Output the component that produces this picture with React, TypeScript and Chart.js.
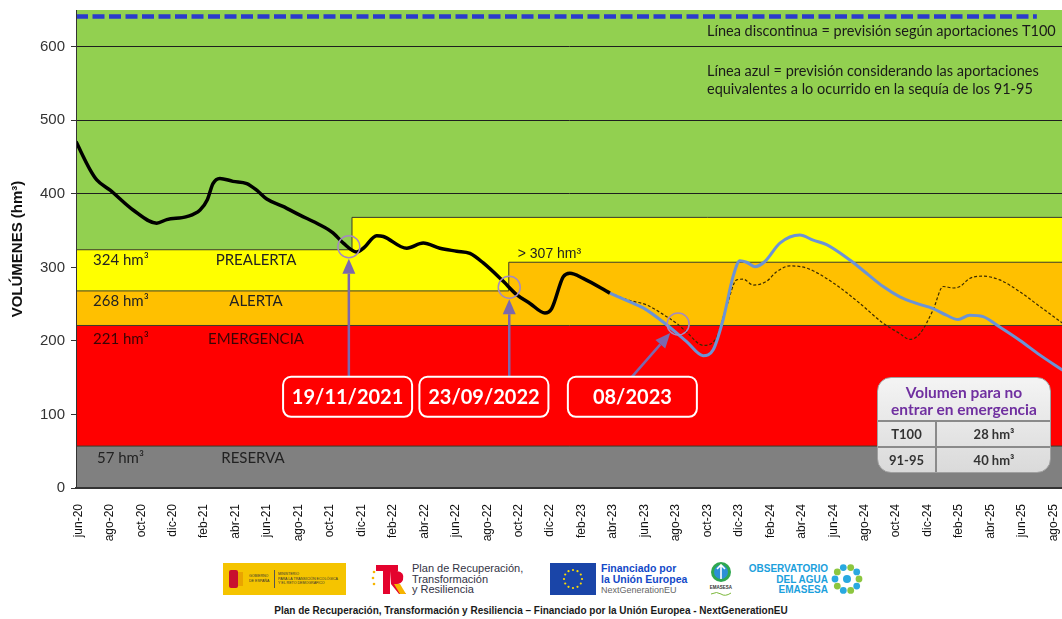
import React, { useEffect, useRef } from 'react';
import { Chart, registerables } from 'chart.js';

Chart.register(...registerables);

// ---------- axis ticks ----------
const xTickLabels = [
  'jun-20', 'ago-20', 'oct-20', 'dic-20', 'feb-21', 'abr-21', 'jun-21', 'ago-21',
  'oct-21', 'dic-21', 'feb-22', 'abr-22', 'jun-22', 'ago-22', 'oct-22', 'dic-22',
  'feb-23', 'abr-23', 'jun-23', 'ago-23', 'oct-23', 'dic-23', 'feb-24', 'abr-24',
  'jun-24', 'ago-24', 'oct-24', 'dic-24', 'feb-25', 'abr-25', 'jun-25', 'ago-25',
];
// months counted from jun-20
const xTickMonths = [
  0, 2, 4, 6, 8, 10, 12, 14, 16, 18, 20, 22, 24, 26, 28, 30,
  32, 34, 36, 38, 40, 42, 44, 46, 48, 50, 52, 54, 56, 58, 60, 62,
];
const yTickValues = [0, 100, 200, 300, 400, 500, 600];

// ---------- observed volume (black) ----------
const observedMonths = [
  -0.15, 0.74, 1.17, 2.02, 3.48, 4.98, 5.62, 6.89, 7.74, 8.2, 8.56, 9.0, 9.83, 10.71,
  11.34, 11.98, 13.01, 14.09, 15.16, 16.19, 16.85, 17.7, 18.12, 18.97, 19.39, 20.88,
  21.93, 22.99, 24.06, 24.9, 25.75, 27.02, 27.87, 28.72, 29.67, 30.1, 30.83, 31.26,
  32.1, 33.8,
];
const observedValues = [
  471, 433, 419, 405, 378, 360, 365, 369, 378, 392, 414, 421, 417, 414,
  405, 393, 383, 371, 360, 347, 333, 321, 326, 343, 342, 326,
  333, 326, 322, 319, 306, 281, 263, 251, 238, 244, 287, 292,
  285, 265,
];

// ---------- forecast with 91-95 inflows (blue) ----------
const forecast9195Months = [
  33.8, 35.07, 35.92, 37.41, 38.68, 39.73, 40.37, 41.0, 41.64, 42.07, 42.49, 43.02,
  43.66, 44.61, 45.88, 46.73, 47.58, 49.06, 50.12, 51.18, 52.24, 53.3, 54.35, 55.2,
  55.94, 56.68, 57.53, 58.59, 59.86, 61.13, 62.6,
];
const forecast9195Values = [
  265, 253, 245, 222, 199, 180, 188, 229, 288, 309, 307, 301,
  308, 333, 344, 337, 331, 310, 292, 274, 260, 251, 244, 235,
  229, 235, 233, 219, 201, 181, 160,
];

// ---------- forecast with T100 inflows (dashed) ----------
const forecastT100Months = [
  33.8, 35.07, 36.13, 37.41, 38.1, 38.68, 39.73, 40.48, 41.22, 41.86, 42.28, 42.91,
  43.76, 44.4, 45.25, 46.31, 48.0, 49.7, 51.18, 52.24, 52.88, 53.52, 54.35, 54.99,
  55.63, 56.06, 56.68, 57.53, 58.59, 59.86, 61.13, 62.6,
];
const forecastT100Values = [
  265, 255, 249, 233, 223, 212, 194, 201, 247, 283, 284, 276,
  281, 294, 302, 299, 279, 251, 224, 210, 202, 210, 242, 274,
  272, 274, 285, 288, 283, 267, 247, 224,
];

// ---------- T100 level (blue dashed) ----------
const t100LevelMonths = [-0.15, 60.95];
const t100LevelValues = [641, 641];

// ---------- alert bands ----------
const prealertaMonths = [-0.15, 17.4, 62.6];
const prealertaValues = [324, 368, 368];
const alertaMonths = [-0.15, 27.37, 62.6];
const alertaValues = [268, 307, 307];
const emergenciaMonths = [-0.15, 62.6];
const emergenciaValues = [221, 221];
const reservaMonths = [-0.15, 62.6];
const reservaValues = [57, 57];

const bandThresholds = [324, 268, 221, 57];
const bandThresholdLabels = ['324 hm³', '268 hm³', '221 hm³', '57 hm³'];
const bandNames = ['PREALERTA', 'ALERTA', 'EMERGENCIA', 'RESERVA'];

// ---------- event annotations ----------
const eventLabels = ['19/11/2021', '23/09/2022', '08/2023'];
const eventMonths = [17.2, 27.4, 38.14];
const eventValues = [328, 273, 223];
const eventBoxMonths = [17.12, 25.79, 35.23];
const eventBoxValue = 124;
const eventArrowFromMonths = [17.2, 27.4, 35.2];

const pts = (xs: number[], ys: number[]) => xs.map((x, i) => ({ x, y: ys[i] }));

const LATO = 'Lato, "Noto Sans", sans-serif';
const ARIAL = '"Liberation Sans", Arial, sans-serif';

const bgPlugin = {
  id: 'greenBg',
  beforeDraw(chart: any) {
    const { ctx, chartArea: a } = chart;
    ctx.save();
    ctx.fillStyle = '#92D050';
    ctx.fillRect(a.left, a.top, a.right - a.left, a.bottom - a.top);
    ctx.restore();
  },
};

const overlayPlugin = {
  id: 'overlay',
  afterDraw(chart: any) {
    const { ctx, chartArea: a, scales } = chart;
    const xs = scales.x;
    const ys = scales.y;
    const px = (m: number) => xs.getPixelForValue(m);
    const py = (v: number) => ys.getPixelForValue(v);
    ctx.save();

    // band labels
    const dy = [10, 10.5, 13.5, 12.5];
    const leftOff = [17, 17, 17, 21];
    const nameOff = [180, 180, 180, 177];
    ctx.textBaseline = 'middle';
    for (let i = 0; i < bandThresholds.length; i++) {
      const yy = py(bandThresholds[i]) + dy[i];
      ctx.fillStyle = i === 2 ? '#3a0505' : '#222';
      ctx.font = `15px ${LATO}`;
      ctx.textAlign = 'left';
      ctx.fillText(bandThresholdLabels[i], a.left + leftOff[i], yy);
      ctx.textAlign = 'center';
      ctx.fillText(bandNames[i], a.left + nameOff[i], yy);
    }

    // > 307 label
    ctx.font = `14px ${ARIAL}`;
    ctx.fillStyle = '#222';
    ctx.textAlign = 'left';
    ctx.fillText('> 307 hm³', px(alertaMonths[1]) + 9, py(alertaValues[1]) - 8);

    // notes top right
    ctx.font = `14.5px ${LATO}`;
    ctx.fillStyle = '#1a1a1a';
    ctx.fillText('Línea discontinua = previsión según aportaciones T100', 707, 31);
    ctx.fillText('Línea azul = previsión considerando las aportaciones', 707, 71);
    ctx.fillText('equivalentes a lo ocurrido en la sequía de los 91-95', 707, 89);

    // events
    const r = 11;
    for (let i = 0; i < eventLabels.length; i++) {
      const cx = px(eventMonths[i]);
      const cy = py(eventValues[i]);
      ctx.beginPath();
      ctx.arc(cx, cy, r, 0, Math.PI * 2);
      ctx.strokeStyle = '#a58ac0';
      ctx.lineWidth = 1.5;
      ctx.stroke();

      const bx = px(eventBoxMonths[i]);
      const by = py(eventBoxValue);
      const bw = 129;
      const bh = 40;
      const boxTop = by - bh / 2;

      // arrow
      const sx = px(eventArrowFromMonths[i]);
      const sy = boxTop;
      const ddx = cx - sx;
      const ddy = cy - sy;
      const len = Math.hypot(ddx, ddy);
      const ux = ddx / len;
      const uy = ddy / len;
      const tx = cx - ux * (r + 1);
      const ty = cy - uy * (r + 1);
      const hl = 15;
      const hw = 6.5;
      const baseX = tx - ux * hl;
      const baseY = ty - uy * hl;
      ctx.strokeStyle = '#7b68ad';
      ctx.lineWidth = 2.5;
      ctx.beginPath();
      ctx.moveTo(sx, sy);
      ctx.lineTo(baseX, baseY);
      ctx.stroke();
      ctx.fillStyle = '#7b68ad';
      ctx.beginPath();
      ctx.moveTo(tx, ty);
      ctx.lineTo(baseX - uy * hw, baseY + ux * hw);
      ctx.lineTo(baseX + uy * hw, baseY - ux * hw);
      ctx.closePath();
      ctx.fill();

      // box
      ctx.beginPath();
      ctx.roundRect(bx - bw / 2, boxTop, bw, bh, 8);
      ctx.fillStyle = '#ff0000';
      ctx.fill();
      ctx.strokeStyle = '#ffffff';
      ctx.lineWidth = 2;
      ctx.stroke();
      ctx.fillStyle = '#ffffff';
      ctx.font = `bold 20px ${LATO}`;
      ctx.textAlign = 'center';
      ctx.textBaseline = 'middle';
      ctx.fillText(eventLabels[i], bx, by + 1);
    }
    ctx.restore();
  },
};

function VolumeBox() {
  const cell: any = {
    position: 'absolute',
    fontFamily: LATO,
    fontWeight: 700,
    fontSize: 13,
    color: '#333',
    textAlign: 'center',
  };
  return (
    <div
      style={{
        position: 'absolute',
        left: 877,
        top: 377,
        width: 174,
        height: 96,
        borderRadius: 14,
        background: 'linear-gradient(#f4f4f4, #dadada)',
        border: '1px solid #a0a0a0',
        boxSizing: 'border-box',
        overflow: 'hidden',
      }}
    >
      <div
        style={{
          position: 'absolute',
          left: 0,
          top: 6,
          width: '100%',
          textAlign: 'center',
          fontFamily: LATO,
          fontWeight: 700,
          fontSize: 15.5,
          lineHeight: '17px',
          color: '#7030A0',
        }}
      >
        Volumen para no
        <br />
        entrar en emergencia
      </div>
      <div style={{ position: 'absolute', left: 0, top: 42, width: '100%', height: 2, background: '#8a8a8a' }} />
      <div style={{ position: 'absolute', left: 0, top: 68, width: '100%', height: 2, background: '#8a8a8a' }} />
      <div style={{ position: 'absolute', left: 57, top: 43, width: 2, height: 60, background: '#8a8a8a' }} />
      <div style={{ ...cell, left: 0, width: 57, top: 44, lineHeight: '24px' }}>T100</div>
      <div style={{ ...cell, left: 59, width: 114, top: 44, lineHeight: '24px' }}>28 hm³</div>
      <div style={{ ...cell, left: 0, width: 57, top: 70, lineHeight: '24px' }}>91-95</div>
      <div style={{ ...cell, left: 59, width: 114, top: 70, lineHeight: '24px' }}>40 hm³</div>
    </div>
  );
}

function Logos() {
  const starAngles = [0, 30, 60, 90, 120, 150, 180, 210, 240, 270, 300, 330];
  const ringAngles = [0, 36, 72, 108, 144, 180, 216, 252, 288, 324];
  return (
    <>
      {/* Gobierno de España */}
      <div style={{ position: 'absolute', left: 223, top: 563, width: 123, height: 32, background: '#F5C400' }}>
        <div style={{ position: 'absolute', left: 6, top: 7, width: 9, height: 18, background: '#c8102e', borderRadius: 2 }} />
        <div style={{ position: 'absolute', left: 15, top: 9, width: 5, height: 14, background: '#e9a400' }} />
        <div style={{ position: 'absolute', left: 26, top: 11, fontFamily: ARIAL, fontSize: 3.6, lineHeight: '4.5px', color: '#333' }}>
          GOBIERNO
          <br />
          DE ESPAÑA
        </div>
        <div style={{ position: 'absolute', left: 51, top: 7, width: 0.8, height: 18, background: '#555' }} />
        <div style={{ position: 'absolute', left: 55, top: 9, fontFamily: ARIAL, fontSize: 3.6, lineHeight: '4.5px', color: '#333' }}>
          MINISTERIO
          <br />
          PARA LA TRANSICIÓN ECOLÓGICA
          <br />
          Y EL RETO DEMOGRÁFICO
        </div>
      </div>
      {/* Plan de Recuperación */}
      <svg style={{ position: 'absolute', left: 370, top: 562 }} width={38} height={34}>
        <circle cx={4} cy={10} r={1.3} fill="#f6b400" />
        <circle cx={3} cy={16} r={1.3} fill="#f6b400" />
        <circle cx={4} cy={22} r={1.3} fill="#f6b400" />
        <rect x={6} y={3} width={22} height={6} fill="#e4032e" />
        <rect x={13} y={3} width={7} height={29} fill="#e4032e" />
        <path d="M20 9 L27 9 Q35 10 33 18 Q31 22 27 22 L36 32 L29 32 L21 22 Z" fill="#e4032e" />
        <path d="M24 22 L30 22 L36 32 L30 32 Z" fill="#f6b400" />
      </svg>
      <div
        style={{
          position: 'absolute',
          left: 412,
          top: 563,
          fontFamily: ARIAL,
          fontSize: 11,
          lineHeight: '10.5px',
          color: '#333344',
          whiteSpace: 'nowrap',
        }}
      >
        Plan de Recuperación,
        <br />
        Transformación
        <br />y Resiliencia
      </div>
      {/* EU */}
      <svg style={{ position: 'absolute', left: 550, top: 563 }} width={46} height={32}>
        <rect x={0} y={0} width={46} height={32} fill="#1a45a8" />
        {starAngles.map((d) => (
          <circle
            key={d}
            cx={23 + 9 * Math.cos((d * Math.PI) / 180)}
            cy={16 + 9 * Math.sin((d * Math.PI) / 180)}
            r={1.1}
            fill="#ffdd00"
          />
        ))}
      </svg>
      <div style={{ position: 'absolute', left: 601, top: 563, fontFamily: ARIAL, whiteSpace: 'nowrap' }}>
        <div style={{ fontSize: 10.5, fontWeight: 700, color: '#1349c8', lineHeight: '11px' }}>Financiado por</div>
        <div style={{ fontSize: 10.5, fontWeight: 700, color: '#1349c8', lineHeight: '11px' }}>la Unión Europea</div>
        <div style={{ fontSize: 9, color: '#666', lineHeight: '11px' }}>NextGenerationEU</div>
      </div>
      {/* EMASESA */}
      <svg style={{ position: 'absolute', left: 707, top: 560 }} width={28} height={38}>
        <circle cx={14} cy={12} r={10} fill="#2fa84f" />
        <circle cx={14} cy={12} r={7} fill="#2b8fd6" />
        <path d="M14 5 L14 19 M10 9 L14 5 L18 9" stroke="#fff" strokeWidth={1.6} fill="none" />
        <text x={14} y={29} fontSize={4.5} fontWeight={700} textAnchor="middle" fill="#333" fontFamily={ARIAL}>
          EMASESA
        </text>
        <path d="M4 34 Q10 31 14 34 T24 33" stroke="#7cb83a" strokeWidth={1} fill="none" />
      </svg>
      {/* Observatorio */}
      <div
        style={{
          position: 'absolute',
          left: 740,
          top: 564,
          width: 88,
          textAlign: 'right',
          fontFamily: ARIAL,
          fontWeight: 700,
          fontSize: 10,
          lineHeight: '10.5px',
          color: '#1ca0dc',
        }}
      >
        OBSERVATORIO
        <br />
        DEL AGUA
        <br />
        EMASESA
      </div>
      <svg style={{ position: 'absolute', left: 831, top: 563 }} width={32} height={32}>
        {ringAngles.map((d, i) => (
          <circle
            key={d}
            cx={16 + 12 * Math.cos((d * Math.PI) / 180)}
            cy={16 + 12 * Math.sin((d * Math.PI) / 180)}
            r={3.4}
            fill={i % 2 === 0 ? '#8cc63f' : '#29a9e0'}
          />
        ))}
        <circle cx={16} cy={16} r={4} fill="#29a9e0" />
      </svg>
      <div
        style={{
          position: 'absolute',
          left: 0,
          top: 605,
          width: 1062,
          textAlign: 'center',
          fontFamily: ARIAL,
          fontWeight: 700,
          fontSize: 10,
          lineHeight: '12px',
          color: '#1a1a1a',
        }}
      >
        Plan de Recuperación, Transformación y Resiliencia – Financiado por la Unión Europea - NextGenerationEU
      </div>
    </>
  );
}

export default function App() {
  const ref = useRef<HTMLCanvasElement>(null);

  useEffect(() => {
    const lineBase = { pointRadius: 0, pointHoverRadius: 0, fill: false };
    const bandBase = { pointRadius: 0, pointHoverRadius: 0, stepped: 'before', fill: 'origin', borderColor: '#3b3b2b', borderWidth: 1 };
    const chart = new Chart(ref.current as HTMLCanvasElement, {
      type: 'line',
      data: {
        datasets: [
          {
            ...lineBase,
            label: 'Volumen embalsado',
            data: pts(observedMonths, observedValues),
            borderColor: '#000000',
            borderWidth: 3.5,
            cubicInterpolationMode: 'monotone',
            order: 0,
          },
          {
            ...lineBase,
            label: 'Previsión 91-95',
            data: pts(forecast9195Months, forecast9195Values),
            borderColor: '#6b93d6',
            borderWidth: 3,
            cubicInterpolationMode: 'monotone',
            order: 1,
          },
          {
            ...lineBase,
            label: 'Previsión T100',
            data: pts(forecastT100Months, forecastT100Values),
            borderColor: '#3a2a00',
            borderWidth: 1.2,
            borderDash: [3, 2],
            cubicInterpolationMode: 'monotone',
            order: 2,
          },
          {
            ...lineBase,
            label: 'Nivel T100',
            data: pts(t100LevelMonths, t100LevelValues),
            borderColor: '#2b3bcc',
            borderWidth: 4.5,
            borderDash: [12, 4.5],
            order: 3,
          },
          { ...bandBase, label: 'Reserva', data: pts(reservaMonths, reservaValues), backgroundColor: '#808080', order: 10 },
          { ...bandBase, label: 'Emergencia', data: pts(emergenciaMonths, emergenciaValues), backgroundColor: '#ff0000', order: 11 },
          { ...bandBase, label: 'Alerta', data: pts(alertaMonths, alertaValues), backgroundColor: '#ffc000', order: 12 },
          { ...bandBase, label: 'Prealerta', data: pts(prealertaMonths, prealertaValues), backgroundColor: '#ffff00', order: 13 },
        ],
      } as any,
      options: {
        responsive: false,
        maintainAspectRatio: false,
        animation: false,
        devicePixelRatio: 1,
        layout: { padding: { top: 10, right: 0, left: 0, bottom: 0 } },
        plugins: { legend: { display: false }, tooltip: { enabled: false } },
        events: [],
        scales: {
          x: {
            type: 'linear',
            min: -0.15,
            max: 62.55,
            grid: { display: false },
            border: { display: true, color: '#333', width: 2, z: 1 },
            afterBuildTicks: (s: any) => {
              s.ticks = xTickMonths.map((v) => ({ value: v }));
            },
            afterFit: (s: any) => {
              s.height = 67;
              s.paddingLeft = 0;
              s.paddingRight = 0;
              s.paddingTop = 0;
              s.paddingBottom = 0;
            },
            ticks: {
              autoSkip: false,
              maxRotation: 90,
              minRotation: 90,
              padding: 8,
              color: '#111',
              font: { family: ARIAL, size: 12 },
              callback: (_v: any, i: number) => xTickLabels[i],
            },
          },
          y: {
            type: 'linear',
            min: 0,
            max: 650,
            afterBuildTicks: (s: any) => {
              s.ticks = yTickValues.map((v) => ({ value: v }));
            },
            afterFit: (s: any) => {
              s.width = 76;
              s.paddingLeft = 0;
              s.paddingRight = 0;
              s.paddingTop = 0;
              s.paddingBottom = 0;
            },
            grid: { color: '#1e1e1e', lineWidth: 1, tickLength: 5, tickColor: '#333', drawTicks: true },
            border: { display: true, color: '#333', width: 1, z: 1 },
            ticks: { padding: 6, color: '#333', font: { family: ARIAL, size: 15 } },
            title: {
              display: true,
              text: 'VOLÚMENES (hm³)',
              color: '#111',
              font: { family: ARIAL, size: 15, weight: 'bold' },
              padding: { top: 9, bottom: 0 },
            },
          },
        },
      } as any,
      plugins: [bgPlugin, overlayPlugin],
    });
    return () => chart.destroy();
  }, []);

  return (
    <div style={{ position: 'absolute', left: 0, top: 0, width: 1062, height: 619, background: '#fff', overflow: 'hidden' }}>
      <canvas ref={ref} width={1062} height={555} style={{ position: 'absolute', left: 0, top: 0, width: 1062, height: 555 }} />
      <VolumeBox />
      <Logos />
    </div>
  );
}
